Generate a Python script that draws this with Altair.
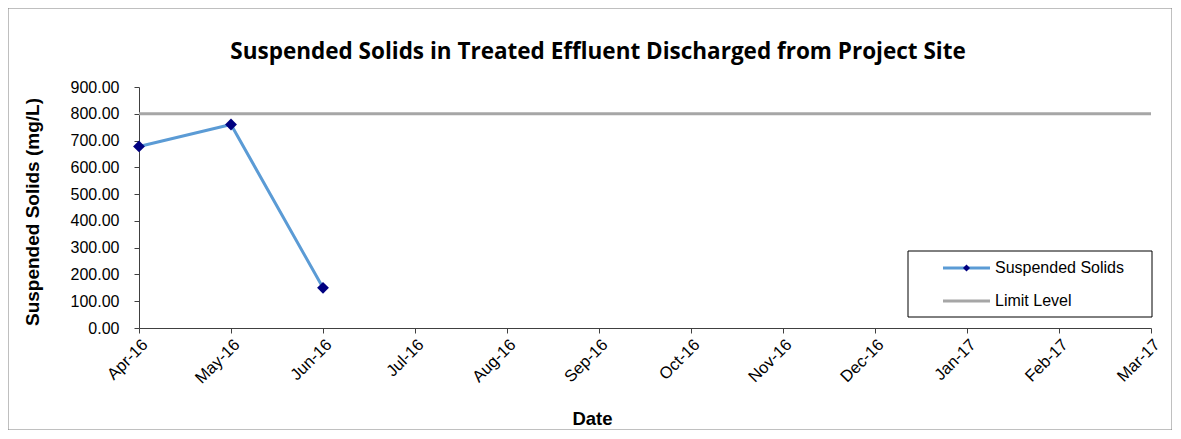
import altair as alt
import pandas as pd

months = ["Apr-16", "May-16", "Jun-16", "Jul-16", "Aug-16", "Sep-16", "Oct-16",
          "Nov-16", "Dec-16", "Jan-17", "Feb-17", "Mar-17"]
ss_months = ["Apr-16", "May-16", "Jun-16"]
ss_values = [678.0, 760.0, 150.0]
limit_value = 800.0
legend_names = ["Suspended Solids", "Limit Level"]
title_text = "Suspended Solids in Treated Effluent Discharged from Project Site"

ss_df = pd.DataFrame({"Date": ss_months, "SS": ss_values})
lim_df = pd.DataFrame({"Date": months, "SS": [limit_value] * len(months)})

FONT = "Liberation Sans"
xenc = alt.X("Date:O", sort=months, scale=alt.Scale(type="point", padding=0, domain=months),
             axis=alt.Axis(title="Date", labelAngle=-45, labelFontSize=16.5, labelFont=FONT,
                           labelColor="black", titleFont=FONT, titleFontSize=18.5,
                           titleFontWeight="bold", titleColor="black", titleX=453, titleY=96,
                           titleBaseline="alphabetic",
                           domainColor="#404040", tickColor="#404040", tickSize=5,
                           labelPadding=3, grid=False))
yenc = alt.Y("SS:Q", scale=alt.Scale(domain=[0, 900], nice=False),
             axis=alt.Axis(title="Suspended Solids (mg/L)", values=list(range(0, 901, 100)),
                           format=".2f", labelFontSize=16, labelFont=FONT, labelColor="black",
                           titleFont=FONT, titleFontSize=19, titleFontWeight="bold",
                           titleColor="black", titleX=-101, titleY=124.5,
                           titleBaseline="alphabetic",
                           domainColor="#404040", tickColor="#404040", tickSize=5,
                           labelPadding=15, grid=False))

limit = alt.Chart(lim_df).mark_line(color="#A6A6A6", strokeWidth=3).encode(x=xenc, y=yenc)
line = alt.Chart(ss_df).mark_line(color="#5B9BD5", strokeWidth=3).encode(x=xenc, y=yenc)
pts = alt.Chart(ss_df).mark_point(shape="diamond", filled=True, color="#000080",
                                  size=140, opacity=1).encode(x=xenc, y=yenc)

one = pd.DataFrame({"a": [0]})

# Outer chart border
border = alt.Chart(one).mark_rect(
    fill=None, stroke="#808080", strokeWidth=1).encode(
    x=alt.value(-131), x2=alt.value(1033), y=alt.value(-79), y2=alt.value(343))

# Title as text
title = alt.Chart(pd.DataFrame({"t": [title_text]})).mark_text(
    align="center", baseline="alphabetic", font="Open Sans", fontSize=22.5, fontWeight="bold",
    color="black").encode(x=alt.value(459), y=alt.value(-28), text="t:N")

# Custom legend
leg_df = pd.DataFrame({"name": legend_names})
leg_box = alt.Chart(one).mark_rect(
    fill="white", stroke="black", strokeWidth=1).encode(
    x=alt.value(769), x2=alt.value(1013), y=alt.value(164), y2=alt.value(230))
leg_l1 = alt.Chart(one).mark_rule(color="#5B9BD5", strokeWidth=3).encode(
    x=alt.value(804), x2=alt.value(851), y=alt.value(181))
leg_l2 = alt.Chart(one).mark_rule(color="#A6A6A6", strokeWidth=3).encode(
    x=alt.value(804), x2=alt.value(851), y=alt.value(214))
leg_pt = alt.Chart(one).mark_point(
    shape="diamond", filled=True, color="#000080", size=50, opacity=1).encode(
    x=alt.value(827.5), y=alt.value(181))
leg_t1 = alt.Chart(leg_df.iloc[[0]]).mark_text(
    align="left", baseline="middle", font=FONT, fontSize=16, color="black").encode(
    x=alt.value(856), y=alt.value(181), text="name:N")
leg_t2 = alt.Chart(leg_df.iloc[[1]]).mark_text(
    align="left", baseline="middle", font=FONT, fontSize=16, color="black").encode(
    x=alt.value(856), y=alt.value(214), text="name:N")

chart = alt.layer(border, title, limit, line, pts, leg_box, leg_l1, leg_l2, leg_pt,
                  leg_t1, leg_t2).properties(
    width=1012, height=241,
    autosize=alt.AutoSizeParams(type="none"),
    padding={"left": 131, "top": 79, "right": 21, "bottom": 102},
).configure(background="white").configure_view(stroke="transparent")

chart.save("out.html", embed_options={"renderer": "svg", "actions": False})
